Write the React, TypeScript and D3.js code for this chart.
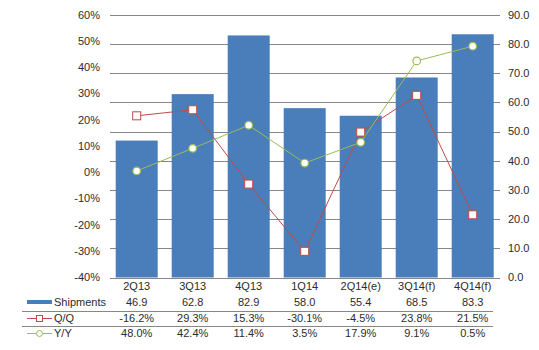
import { useEffect, useRef } from 'react';
import * as d3 from 'd3';

// categories and table values (as printed under the chart)
const quarters = ['2Q13', '3Q13', '4Q13', '1Q14', '2Q14(e)', '3Q14(f)', '4Q14(f)'];
const shipments = [46.9, 62.8, 82.9, 58.0, 55.4, 68.5, 83.3];
const qqLabels = ['-16.2%', '29.3%', '15.3%', '-30.1%', '-4.5%', '23.8%', '21.5%'];
const yyLabels = ['48.0%', '42.4%', '11.4%', '3.5%', '17.9%', '9.1%', '0.5%'];

// line values as they are plotted in the picture (%)
const qqPlot = [21.5, 23.8, -4.5, -30.1, 15.3, 29.3, -16.2];
const yyPlot = [0.5, 9.1, 17.9, 3.5, 11.4, 42.4, 48.0];

const leftTicks = [-40, -30, -20, -10, 0, 10, 20, 30, 40, 50, 60];
const rightTicks = [0, 10, 20, 30, 40, 50, 60, 70, 80, 90];

const App = () => {
    const svgRef = useRef<SVGSVGElement>(null);

    useEffect(() => {
        const width = 539;
        const height = 350;
        const font = 'Liberation Sans, Arial, sans-serif';
        const textColor = '#2b2b2b';
        const barColor = '#4a7ebb';
        const qqColor = '#be4b48';
        const yyColor = '#9bbb59';

        const svg = d3.select(svgRef.current);
        svg.selectAll('*').remove();
        svg.attr('width', width).attr('height', height);

        // scales
        const x = d3.scaleBand<string>()
            .domain(quarters)
            .range([108.7, 500.7])
            .paddingInner(0.25)
            .paddingOuter(0.125);

        const yRight = d3.scaleLinear().domain([0, 90]).range([277.5, 14.7]);
        const yLeft = d3.scaleLinear().domain([-40, 60]).range([277.3, 14.7]);

        // gridlines (right axis)
        svg.append('g')
            .selectAll('line')
            .data(rightTicks)
            .enter()
            .append('line')
            .attr('x1', 110)
            .attr('x2', 500)
            .attr('y1', d => Math.round(yRight(d)) + 0.5)
            .attr('y2', d => Math.round(yRight(d)) + 0.5)
            .attr('stroke', '#868686')
            .attr('stroke-width', 1);

        // left tick labels
        svg.append('g')
            .selectAll('text')
            .data(leftTicks)
            .enter()
            .append('text')
            .attr('x', 100)
            .attr('y', d => yLeft(d))
            .attr('dy', '0.35em')
            .attr('text-anchor', 'end')
            .attr('font-family', font)
            .attr('font-size', 11)
            .attr('fill', textColor)
            .text(d => `${d}%`);

        // right tick labels
        svg.append('g')
            .selectAll('text')
            .data(rightTicks)
            .enter()
            .append('text')
            .attr('x', 508)
            .attr('y', d => yRight(d))
            .attr('dy', '0.35em')
            .attr('text-anchor', 'start')
            .attr('font-family', font)
            .attr('font-size', 11)
            .attr('fill', textColor)
            .text(d => d.toFixed(1));

        // bars
        svg.append('g')
            .selectAll('rect')
            .data(shipments)
            .enter()
            .append('rect')
            .attr('x', (d, i) => x(quarters[i])!)
            .attr('y', d => yRight(d))
            .attr('width', x.bandwidth())
            .attr('height', d => yRight(0) - yRight(d))
            .attr('fill', barColor);

        const cx = (i: number) => x(quarters[i])! + x.bandwidth() / 2;

        // lines
        const line = d3.line<number>().x((d, i) => cx(i)).y(d => yLeft(d));

        svg.append('path')
            .datum(qqPlot)
            .attr('d', line)
            .attr('fill', 'none')
            .attr('stroke', qqColor)
            .attr('stroke-width', 1);

        svg.append('path')
            .datum(yyPlot)
            .attr('d', line)
            .attr('fill', 'none')
            .attr('stroke', yyColor)
            .attr('stroke-width', 1);

        svg.append('g')
            .selectAll('rect')
            .data(qqPlot)
            .enter()
            .append('rect')
            .attr('x', (d, i) => cx(i) - 4)
            .attr('y', d => yLeft(d) - 4)
            .attr('width', 8)
            .attr('height', 8)
            .attr('fill', 'white')
            .attr('stroke', qqColor)
            .attr('stroke-width', 1);

        svg.append('g')
            .selectAll('circle')
            .data(yyPlot)
            .enter()
            .append('circle')
            .attr('cx', (d, i) => cx(i))
            .attr('cy', d => yLeft(d))
            .attr('r', 3.8)
            .attr('fill', 'white')
            .attr('stroke', yyColor)
            .attr('stroke-width', 1.2);

        // ==========================================
        // DATA TABLE
        // ==========================================
        const rows = [
            { y: 290, values: quarters },
            { y: 305.7, values: shipments.map(d => d.toFixed(1)) },
            { y: 322.3, values: qqLabels },
            { y: 337.3, values: yyLabels },
        ];

        rows.forEach(row => {
            svg.append('g')
                .selectAll('text')
                .data(row.values)
                .enter()
                .append('text')
                .attr('x', (d, i) => cx(i))
                .attr('y', row.y)
                .attr('text-anchor', 'middle')
                .attr('font-family', font)
                .attr('font-size', 11)
                .attr('fill', textColor)
                .text(d => d);
        });

        // row separators
        [311.5, 326.5].forEach(yy => {
            svg.append('line')
                .attr('x1', 22)
                .attr('x2', 493)
                .attr('y1', yy)
                .attr('y2', yy)
                .attr('stroke', '#868686')
                .attr('stroke-width', 1);
        });

        // legend keys
        svg.append('rect')
            .attr('x', 27)
            .attr('y', 300)
            .attr('width', 25)
            .attr('height', 4)
            .attr('fill', barColor);

        svg.append('line')
            .attr('x1', 27).attr('x2', 52)
            .attr('y1', 318.5).attr('y2', 318.5)
            .attr('stroke', qqColor);
        svg.append('rect')
            .attr('x', 36.5).attr('y', 315.5)
            .attr('width', 6).attr('height', 6)
            .attr('fill', 'white')
            .attr('stroke', qqColor);

        svg.append('line')
            .attr('x1', 27).attr('x2', 52)
            .attr('y1', 333.5).attr('y2', 333.5)
            .attr('stroke', yyColor);
        svg.append('circle')
            .attr('cx', 39.5).attr('cy', 333.5)
            .attr('r', 3)
            .attr('fill', 'white')
            .attr('stroke', yyColor);

        const legendNames = ['Shipments', 'Q/Q', 'Y/Y'];
        svg.append('g')
            .selectAll('text')
            .data(legendNames)
            .enter()
            .append('text')
            .attr('x', 54)
            .attr('y', (d, i) => rows[i + 1].y)
            .attr('font-family', font)
            .attr('font-size', 11)
            .attr('fill', textColor)
            .text(d => d);
    }, []);

    return (
        <svg
            ref={svgRef}
            style={{ position: 'absolute', left: 0, top: 0, background: 'white' }}
        />
    );
};

export default App;
